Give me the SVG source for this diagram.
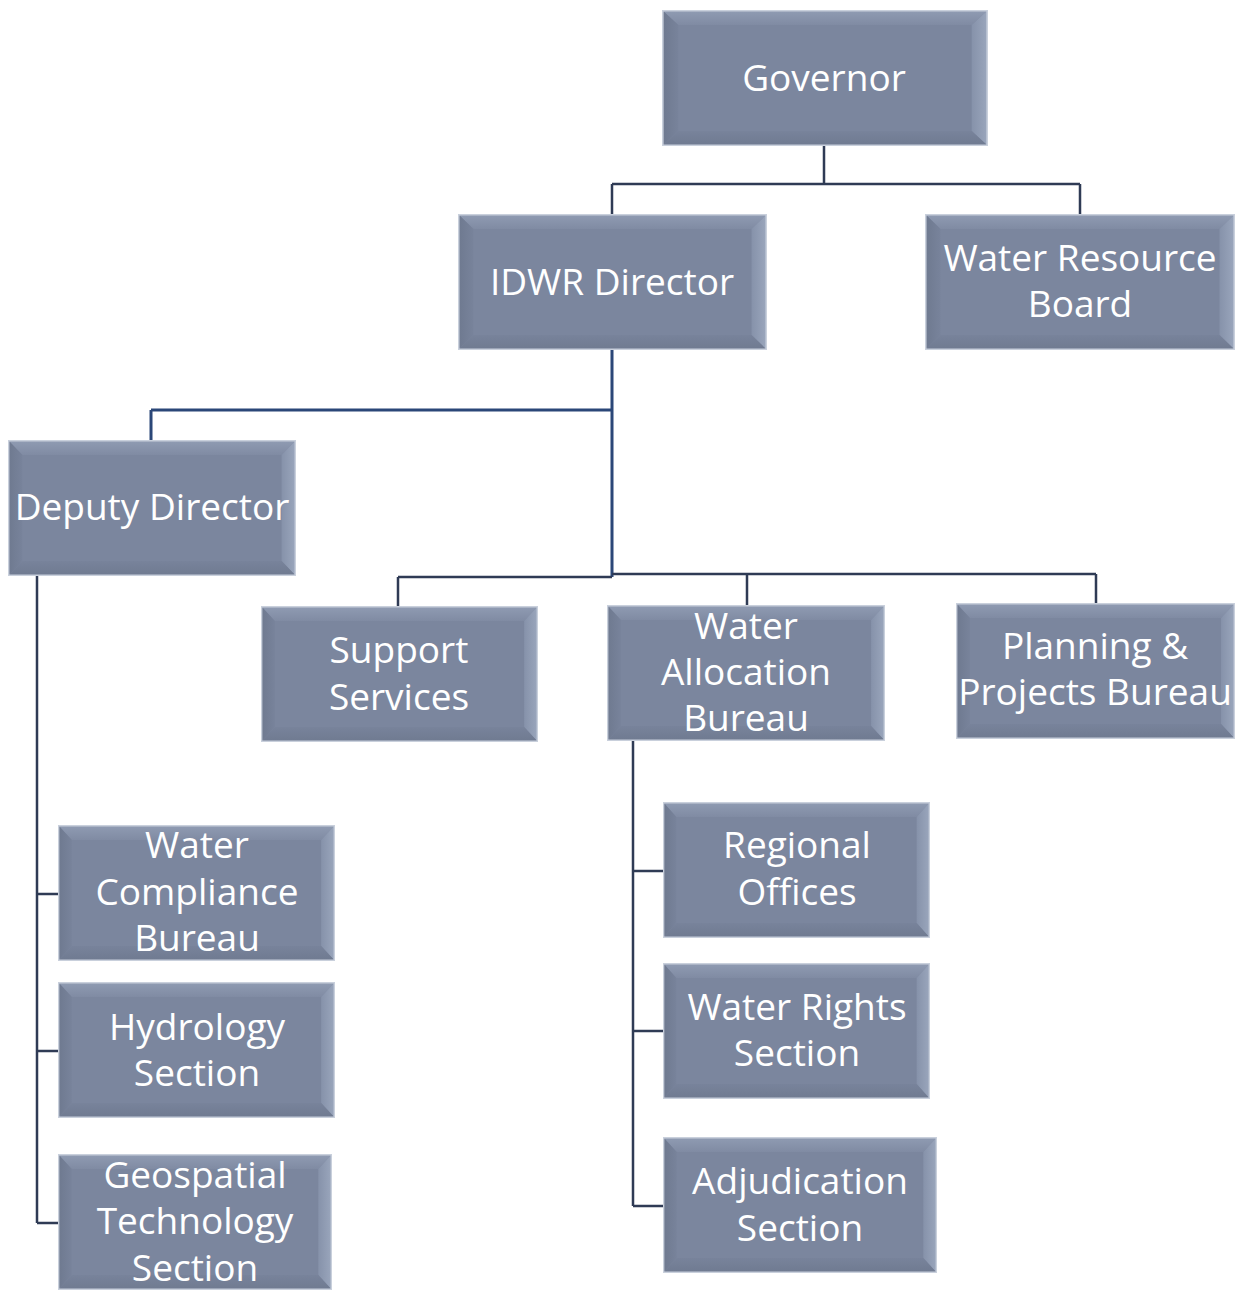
<svg xmlns="http://www.w3.org/2000/svg" xmlns:xlink="http://www.w3.org/1999/xlink" width="1246" height="1290" viewBox="0 0 1246 1290">
<style>
.lbl{font-family:"Open Sans","Liberation Sans",sans-serif;font-size:37px;fill:#ffffff;text-anchor:middle}
.con{fill:none;stroke:#2f3b55;stroke-width:2.5}
.conb{fill:none;stroke:#2b4778;stroke-width:3}
</style>
<defs>
<linearGradient id="gt" x1="0" y1="0" x2="0" y2="1"><stop offset="0" stop-color="#909cb3"/><stop offset="1" stop-color="#808ba3"/></linearGradient>
<linearGradient id="gr" x1="1" y1="0" x2="0" y2="0"><stop offset="0" stop-color="#9ba7bd"/><stop offset="1" stop-color="#8692aa"/></linearGradient>
<linearGradient id="gb" x1="0" y1="1" x2="0" y2="0"><stop offset="0" stop-color="#6f7a90"/><stop offset="1" stop-color="#78839b"/></linearGradient>
<linearGradient id="gl" x1="0" y1="0" x2="1" y2="0"><stop offset="0" stop-color="#6e798f"/><stop offset="1" stop-color="#78839b"/></linearGradient>
<symbol id="box" viewBox="0 0 300 136" preserveAspectRatio="none">
<rect x="0" y="0" width="300" height="136" fill="#7b869e"/>
<polygon points="0,0 300,0 285,15 15,15" fill="url(#gt)"/>
<polygon points="300,0 300,136 285,121 285,15" fill="url(#gr)"/>
<polygon points="0,136 300,136 285,121 15,121" fill="url(#gb)"/>
<polygon points="0,0 0,136 15,121 15,15" fill="url(#gl)"/>
<rect x="0" y="0" width="300" height="136" fill="none" stroke="#c9d0dc" stroke-width="3"/>
</symbol>
</defs>
<g id="connectors">
<path class="con" d="M824,146 V184 M612,184 H1080 M612,184 V214 M1080,184 V214"/>
<path class="conb" d="M612,350 V577 M151,410 H612 M151,410 V440"/>
<path class="con" d="M398,577 H612 M398,577 V606 M612,574 H1096 M1096,574 V603 M747,574 V605"/>
<path class="con" d="M37,576 V1223 M37,894 H58 M37,1051 H58 M37,1223 H58"/>
<path class="con" d="M633,741 V1206 M633,871 H663 M633,1031 H663 M633,1206 H663"/>
</g>
<g id="governor"><use xlink:href="#box" x="662" y="10" width="326" height="136"/><text class="lbl" x="824" y="91">Governor</text></g>
<g id="idwr-director"><use xlink:href="#box" x="458" y="214" width="309" height="136"/><text class="lbl" x="612" y="295">IDWR Director</text></g>
<g id="water-resource-board"><use xlink:href="#box" x="925" y="214" width="310" height="136"/><text class="lbl" x="1080" y="271">Water Resource</text><text class="lbl" x="1080" y="317">Board</text></g>
<g id="deputy-director"><use xlink:href="#box" x="8" y="440" width="288" height="136"/><text class="lbl" x="152" y="520">Deputy Director</text></g>
<g id="support-services"><use xlink:href="#box" x="261" y="606" width="277" height="136"/><text class="lbl" x="399" y="663">Support</text><text class="lbl" x="399" y="710">Services</text></g>
<g id="water-allocation-bureau"><use xlink:href="#box" x="607" y="605" width="278" height="136"/><text class="lbl" x="746" y="639">Water</text><text class="lbl" x="746" y="685">Allocation</text><text class="lbl" x="746" y="731">Bureau</text></g>
<g id="planning-projects-bureau"><use xlink:href="#box" x="956" y="603" width="279" height="136"/><text class="lbl" x="1095" y="659">Planning &amp;</text><text class="lbl" x="1095" y="705">Projects Bureau</text></g>
<g id="water-compliance-bureau"><use xlink:href="#box" x="58" y="825" width="277" height="136"/><text class="lbl" x="197" y="858">Water</text><text class="lbl" x="197" y="905">Compliance</text><text class="lbl" x="197" y="951">Bureau</text></g>
<g id="hydrology-section"><use xlink:href="#box" x="58" y="982" width="277" height="136"/><text class="lbl" x="197" y="1040">Hydrology</text><text class="lbl" x="197" y="1086">Section</text></g>
<g id="geospatial-technology-section"><use xlink:href="#box" x="58" y="1154" width="274" height="136"/><text class="lbl" x="195" y="1188">Geospatial</text><text class="lbl" x="195" y="1234">Technology</text><text class="lbl" x="195" y="1281">Section</text></g>
<g id="regional-offices"><use xlink:href="#box" x="663" y="802" width="267" height="136"/><text class="lbl" x="797" y="858">Regional</text><text class="lbl" x="797" y="905">Offices</text></g>
<g id="water-rights-section"><use xlink:href="#box" x="663" y="963" width="267" height="136"/><text class="lbl" x="797" y="1020">Water Rights</text><text class="lbl" x="797" y="1066">Section</text></g>
<g id="adjudication-section"><use xlink:href="#box" x="663" y="1137" width="274" height="136"/><text class="lbl" x="800" y="1194">Adjudication</text><text class="lbl" x="800" y="1241">Section</text></g>
</svg>
